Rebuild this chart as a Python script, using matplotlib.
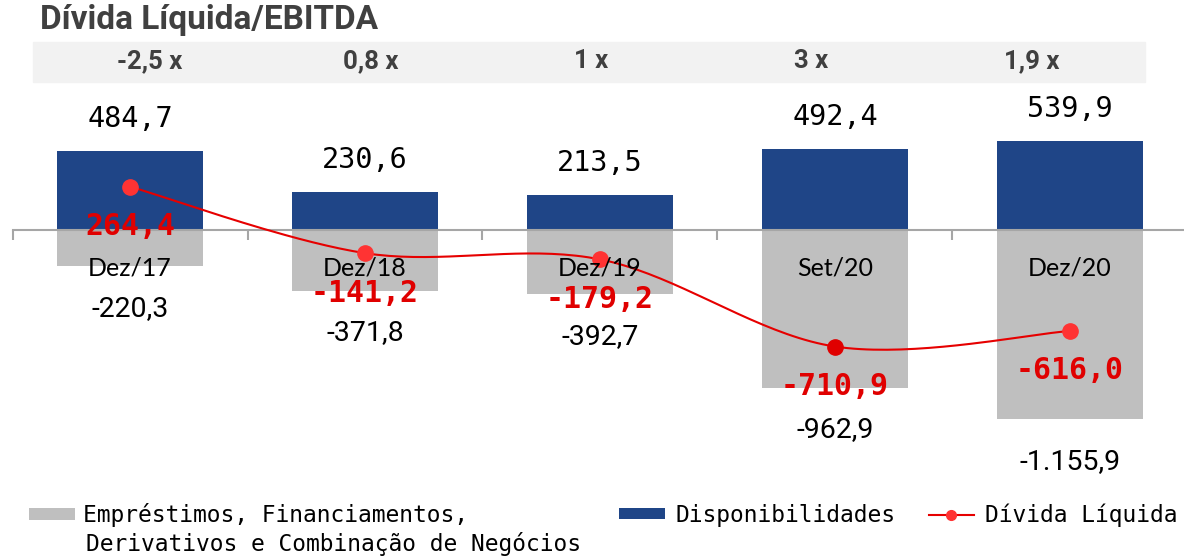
import matplotlib.pyplot as plt
import matplotlib.patches as mpatches
import numpy as np

# dados
categorias = ['Dez/17', 'Dez/18', 'Dez/19', 'Set/20', 'Dez/20']
disponibilidades = [484.7, 230.6, 213.5, 492.4, 539.9]
emprestimos = [-220.3, -371.8, -392.7, -962.9, -1155.9]
divida_liquida = [264.4, -141.2, -179.2, -710.9, -616.0]
alavancagem = ['-2,5 x', '0,8 x', '1 x', '3 x', '1,9 x']

AZUL = '#1f4587'
CINZA = '#bfbfbf'
VERMELHO = '#e60000'
TITULO = '#404040'
MONO = 'DejaVu Sans Mono'


def fmt(v):
    s = f'{v:,.1f}'
    return s.replace(',', 'X').replace('.', ',').replace('X', '.')


def suavizar(x, y, n=40):
    # curva suave tipo Excel (Bezier com pontos de controle de Catmull-Rom)
    x = np.asarray(x, float)
    y = np.asarray(y, float)
    P = np.column_stack([x, y])
    P = np.vstack([P[0], P, P[-1]])
    t = np.linspace(0, 1, n)[:, None]
    out = []
    for i in range(1, len(P) - 2):
        p0, p1, p2, p3 = P[i - 1], P[i], P[i + 1], P[i + 2]
        c1 = p1 + (p2 - p0) / 6
        c2 = p2 - (p3 - p1) / 6
        seg = ((1 - t) ** 3) * p1 + 3 * ((1 - t) ** 2) * t * c1 + 3 * (1 - t) * t ** 2 * c2 + t ** 3 * p2
        out.append(seg)
    out = np.vstack(out)
    return out[:, 0], out[:, 1]


W, H = 1184, 557
fig = plt.figure(figsize=(W / 100, H / 100), dpi=100)
ax = fig.add_axes([0, 0, 1, 1])
ax.set_facecolor('none')

passo = 235.0      # px por categoria
x0 = 130.0         # centro da primeira categoria (px)
zero_y = 230.0     # linha do zero (px a partir do topo)
k = 6.1            # unidades por px

ax.set_xlim(-x0 / passo, (W - x0) / passo)
ax.set_ylim(-(H - zero_y) * k, zero_y * k)
ax.axis('off')

x = np.arange(len(categorias))

# faixa cinza clara com a alavancagem
fig.patches.append(mpatches.Rectangle((33 / W, 1 - 82 / H), (1145 - 33) / W, 40 / H,
                                      transform=fig.transFigure, color='#f2f2f2', zorder=-1))
for i, r in enumerate(alavancagem):
    fig.text((150 + 220.5 * i) / W, 1 - 61 / H, r, ha='center', va='center',
             fontsize=18.5, fontweight='bold', family='Roboto', color=TITULO)

fig.text(40 / W, 1 - 20 / H, 'Dívida Líquida/EBITDA', ha='left', va='center',
         fontsize=24, fontweight='bold', family='Roboto', color=TITULO)

# barras
b_emp = ax.bar(x, emprestimos, width=0.625, color=CINZA, zorder=2,
               label='Empréstimos, Financiamentos,')
b_disp = ax.bar(x, disponibilidades, width=0.625, color=AZUL, zorder=2, label='Disponibilidades')

# eixo
ax.plot([-0.5, ax.get_xlim()[1]], [0, 0], color='#a6a6a6', lw=1.5, zorder=3)
ax.vlines(x - 0.5, -10 * k, 0, color='#a6a6a6', lw=1.5, zorder=3)

# linha da dívida líquida
xs, ys = suavizar(x, divida_liquida)
ax.plot(xs, ys, color=VERMELHO, lw=1.5, zorder=4)
cores_marc = ['#ff3333', '#ff3333', '#ff3333', '#e00000', '#ff3333']
for i, v in enumerate(divida_liquida):
    ax.plot(x[i], v, 'o', color=cores_marc[i], ms=11, zorder=5)
linha, = ax.plot([], [], color=VERMELHO, lw=1.5, marker='o', ms=7,
                 markerfacecolor='#ff3333', markeredgecolor='#ff3333', label='Dívida Líquida')

# rótulos
for i in range(len(categorias)):
    ax.annotate(fmt(disponibilidades[i]), (x[i], disponibilidades[i]), xytext=(0, 32),
                textcoords='offset pixels', ha='center', va='center',
                fontsize=20.5, family=MONO, color='black', zorder=6)
    ax.annotate(fmt(emprestimos[i]), (x[i], emprestimos[i]), xytext=(0, -42),
                textcoords='offset pixels', ha='center', va='center',
                fontsize=20.5, family='Roboto', color='black', zorder=6)
    ax.annotate(fmt(divida_liquida[i]), (x[i], divida_liquida[i]), xytext=(0, -40),
                textcoords='offset pixels', ha='center', va='center',
                fontsize=21.5, fontweight='bold', family=MONO, color='#e00000', zorder=6)
    ax.annotate(categorias[i], (x[i], 0), xytext=(0, -38),
                textcoords='offset pixels', ha='center', va='center',
                fontsize=18, family='Lato', color='black', zorder=6)

# legenda
prop = {'family': MONO, 'size': 16.5}
fig.legend(handles=[b_emp], loc='center left', bbox_to_anchor=(20 / W, 1 - 515 / H),
           frameon=False, prop=prop,
           handlelength=2.0, handleheight=0.4, handletextpad=0.35, borderaxespad=0)
fig.text(86 / W, 1 - 544 / H, 'Derivativos e Combinação de Negócios', ha='left', va='center',
         family=MONO, fontsize=16.5, color='black')
fig.legend(handles=[b_disp, linha], loc='center left', bbox_to_anchor=(610 / W, 1 - 515 / H),
           ncol=2, frameon=False, prop=prop,
           handlelength=2.0, handleheight=0.4, handletextpad=0.45, columnspacing=1.45,
           borderaxespad=0)

fig.savefig('out.png', dpi=100)
